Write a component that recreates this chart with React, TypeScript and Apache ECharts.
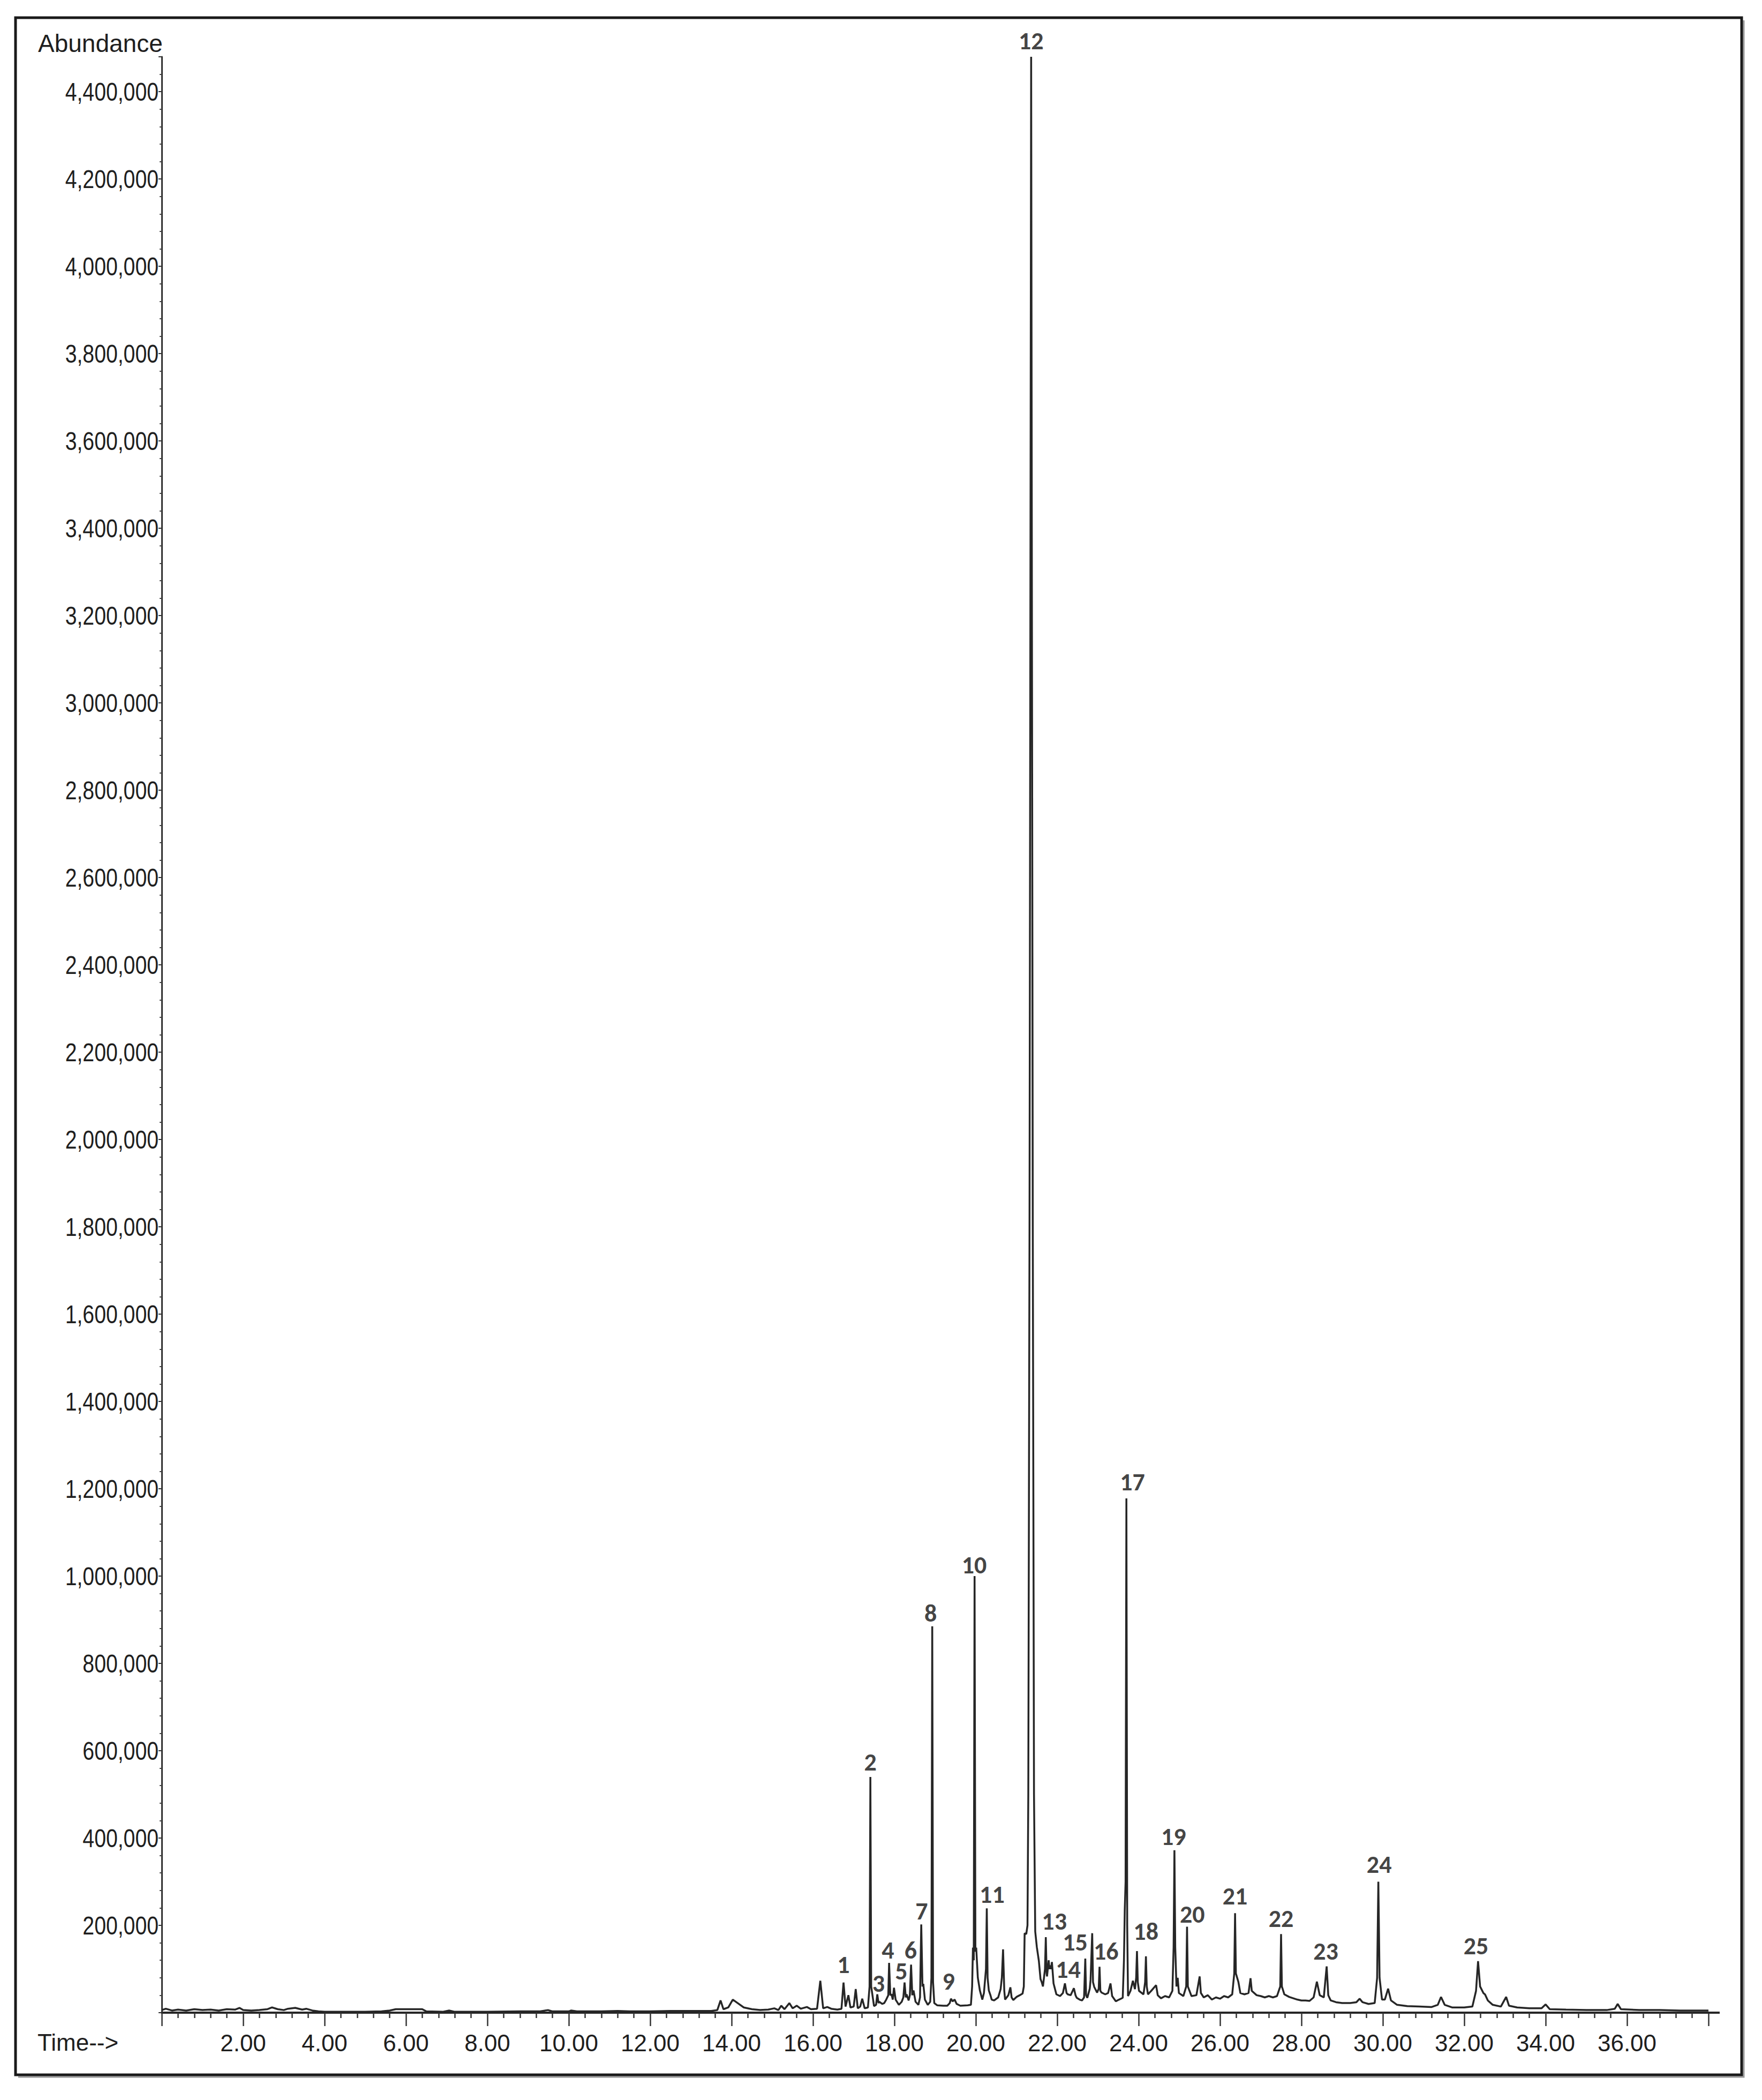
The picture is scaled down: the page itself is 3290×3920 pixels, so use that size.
import React, { useEffect, useRef } from "react";
import * as echarts from "echarts";

// Retention time (min) and abundance (in thousands of counts).
const segmentEarly: [number, number][] = [
  [0.0, 6], [0.1, 9], [0.25, 5], [0.4, 7], [0.6, 5], [0.8, 8], [1.0, 6], [1.2, 7], [1.4, 5],
  [1.6, 8], [1.8, 7], [1.91, 11], [2.0, 6], [2.2, 5], [2.4, 6], [2.6, 8], [2.71, 12], [2.85, 8],
  [3.0, 6], [3.1, 9], [3.28, 11], [3.45, 7], [3.55, 9], [3.7, 5], [3.85, 3], [4.0, 2], [4.5, 2],
  [5.0, 2], [5.4, 3], [5.6, 5], [5.75, 8], [6.0, 8], [6.4, 8], [6.5, 3], [6.9, 2], [7.06, 5],
  [7.2, 2], [8.0, 2], [8.8, 3], [9.3, 3], [9.49, 6], [9.6, 3], [10.0, 3], [10.06, 5], [10.2, 3],
  [10.8, 3], [11.2, 4], [11.5, 3], [12.0, 3], [12.5, 4], [13.0, 4],
];

const segment13to17: [number, number][] = [
  [13.5, 4], [13.65, 6], [13.73, 28], [13.8, 8], [13.92, 12], [14.03, 30], [14.15, 22], [14.3, 12],
  [14.5, 8], [14.7, 6], [14.9, 7], [15.05, 10], [15.15, 6], [15.22, 16], [15.3, 8], [15.42, 22],
  [15.5, 10], [15.6, 16], [15.7, 9], [15.85, 13], [15.95, 8], [16.1, 9], [16.18, 73], [16.25, 10],
  [16.35, 13], [16.45, 9], [16.6, 7], [16.7, 9], [16.75, 69], [16.8, 14], [16.87, 40], [16.92, 12],
  [17.0, 14], [17.05, 54], [17.1, 10], [17.16, 14], [17.21, 32], [17.27, 10], [17.35, 12],
  [17.39, 60], [17.41, 540], [17.43, 60],
];

const segment17to21: [number, number][] = [
  [17.5, 15], [17.55, 18], [17.58, 42], [17.61, 22], [17.63, 25], [17.7, 20], [17.75, 22], [17.8, 30],
  [17.85, 40], [17.87, 114], [17.9, 40], [17.93, 42], [17.96, 30], [17.99, 57], [18.03, 30],
  [18.11, 18], [18.18, 25], [18.22, 35], [18.25, 69], [18.28, 35], [18.3, 42], [18.35, 28],
  [18.38, 40], [18.41, 110], [18.44, 40], [18.47, 51], [18.52, 25], [18.59, 18], [18.63, 35],
  [18.66, 202], [18.69, 60], [18.71, 66], [18.75, 30], [18.82, 18], [18.88, 25], [18.91, 80],
  [18.93, 885], [18.95, 70], [18.98, 22], [19.05, 17], [19.2, 16], [19.3, 16], [19.36, 22],
  [19.39, 32], [19.43, 26], [19.48, 30], [19.53, 20], [19.62, 16], [19.8, 17], [19.88, 18],
  [19.91, 60], [19.93, 149], [19.95, 120], [19.97, 1000], [19.99, 140], [20.01, 149], [20.05, 80],
  [20.1, 51], [20.16, 30], [20.2, 45], [20.25, 100], [20.27, 239], [20.29, 80], [20.32, 51],
  [20.36, 40], [20.39, 30], [20.45, 28], [20.55, 35], [20.61, 54], [20.64, 80], [20.67, 145],
  [20.7, 50], [20.72, 30], [20.8, 40], [20.85, 58], [20.88, 35], [20.92, 29], [21.0, 36],
  [21.08, 40], [21.15, 44], [21.18, 60], [21.2, 182], [21.24, 180], [21.27, 200],
];

const segmentMainPeak: [number, number][] = [
  [21.29, 500], [21.32, 1800], [21.36, 4480], [21.4, 1800], [21.43, 500], [21.46, 186],
  [21.5, 150], [21.55, 118], [21.59, 77], [21.62, 70],
];

const segment21to25: [number, number][] = [
  [21.65, 60], [21.7, 100], [21.72, 173], [21.74, 90], [21.75, 83], [21.79, 120], [21.81, 100],
  [21.83, 108], [21.85, 100], [21.87, 116], [21.91, 67], [21.98, 42], [22.07, 38], [22.14, 45],
  [22.19, 67], [22.23, 45], [22.26, 42], [22.33, 40], [22.41, 56], [22.45, 40], [22.48, 34],
  [22.55, 30], [22.61, 28], [22.66, 35], [22.69, 124], [22.71, 40], [22.74, 34], [22.8, 55],
  [22.82, 75], [22.86, 182], [22.88, 70], [22.91, 59], [22.98, 46], [23.02, 55], [23.04, 105],
  [23.06, 50], [23.09, 46], [23.18, 42], [23.25, 45], [23.31, 67], [23.35, 38], [23.44, 26],
  [23.52, 30], [23.61, 34], [23.64, 120], [23.66, 235], [23.68, 300], [23.7, 1178], [23.72, 200],
  [23.74, 38], [23.8, 50], [23.86, 73], [23.91, 54], [23.94, 80], [23.96, 141], [23.98, 70],
  [24.01, 50], [24.12, 42], [24.16, 70], [24.18, 129], [24.2, 60], [24.23, 42], [24.31, 50],
  [24.43, 63], [24.47, 40], [24.55, 33], [24.65, 38], [24.75, 35], [24.83, 50], [24.86, 150],
  [24.88, 372], [24.9, 150], [24.93, 60], [24.96, 80], [24.99, 45],
];

const segmentLate: [number, number][] = [
  [25.1, 38], [25.17, 60], [25.19, 197], [25.21, 60], [25.3, 38], [25.42, 40], [25.5, 83],
  [25.53, 45], [25.6, 35], [25.7, 40], [25.8, 30], [25.9, 35], [26.0, 32], [26.1, 38], [26.2, 35],
  [26.3, 42], [26.35, 90], [26.37, 228], [26.39, 90], [26.45, 71], [26.5, 45], [26.6, 42],
  [26.7, 45], [26.75, 79], [26.78, 50], [26.9, 40], [27.0, 38], [27.1, 35], [27.2, 38], [27.3, 35],
  [27.4, 38], [27.48, 60], [27.5, 180], [27.52, 60], [27.58, 42], [27.7, 36], [27.8, 33],
  [27.9, 30], [28.0, 28], [28.1, 28], [28.2, 27], [28.3, 35], [28.38, 71], [28.45, 40],
  [28.55, 35], [28.62, 106], [28.66, 40], [28.72, 28], [28.85, 24], [29.0, 22], [29.2, 22],
  [29.35, 24], [29.43, 32], [29.5, 24], [29.65, 20], [29.8, 22], [29.86, 80], [29.89, 300],
  [29.92, 80], [29.98, 30], [30.05, 30], [30.13, 55], [30.2, 28], [30.35, 18], [30.6, 15],
  [30.9, 14], [31.2, 13], [31.35, 18], [31.43, 36], [31.52, 18], [31.7, 12], [32.0, 12],
  [32.2, 14], [32.29, 50], [32.34, 118], [32.39, 60], [32.47, 45], [32.51, 42], [32.58, 28],
  [32.7, 18], [32.9, 14], [33.03, 36], [33.1, 16], [33.3, 12], [33.6, 10], [33.9, 10], [34.0, 19],
  [34.1, 8], [34.5, 7], [35.0, 6], [35.5, 6], [35.7, 9], [35.77, 20], [35.85, 8], [36.3, 6],
  [36.8, 6], [37.3, 5], [38.0, 5],
];

// Peak numbers and the (time, abundance in thousands) where each number is printed.
const peakNames = ["1", "2", "3", "4", "5", "6", "7", "8", "9", "10", "11", "12", "13",
  "14", "15", "16", "17", "18", "19", "20", "21", "22", "23", "24", "25"];
const peakLabelTimes = [16.75, 17.41, 17.61, 17.84, 18.17, 18.4, 18.67, 18.89, 19.33, 19.96,
  20.4, 21.36, 21.93, 22.27, 22.44, 23.2, 23.85, 24.18, 24.86, 25.32, 26.37, 27.5, 28.6, 29.91, 32.29];
const peakLabelAbundance = [110, 574, 68, 143, 96, 143, 233, 915, 73, 1026, 271, 4517, 210, 100,
  162, 141, 1216, 187, 404, 226, 267, 216, 141, 340, 153];

// Y tick labels (abundance) printed on the left axis.
const yTickValues = [200000, 400000, 600000, 800000, 1000000, 1200000, 1400000, 1600000, 1800000,
  2000000, 2200000, 2400000, 2600000, 2800000, 3000000, 3200000, 3400000, 3600000, 3800000,
  4000000, 4200000, 4400000];

const yTickStep = 200000;
const yMax = 4480000;
const xTickStep = 2;
const xMax = 38;

export default function App() {
  const ref = useRef<HTMLDivElement>(null);

  useEffect(() => {
    if (!ref.current) return;
    const chart = echarts.init(ref.current, undefined, { renderer: "svg" });
    const trace = [
      ...segmentEarly, ...segment13to17, ...segment17to21,
      ...segmentMainPeak, ...segment21to25, ...segmentLate,
    ].map(([t, v]) => [t, v * 1000]);
    const labels = peakNames.map((n, i) => ({
      name: n,
      value: [peakLabelTimes[i], peakLabelAbundance[i] * 1000],
    }));
    const axisFont = "'Liberation Sans', Arial, sans-serif";

    const frameGraphics: any[] = [
      {
        type: "rect",
        shape: { x: 29, y: 33, width: 3223, height: 3840 },
        style: { fill: "none", stroke: "#1a1a1a", lineWidth: 5 },
        z: 10,
      },
      {
        type: "polyline",
        shape: { points: [[3256, 38], [3256, 3877], [34, 3877]] },
        style: { fill: "none", stroke: "#9a9a9a", lineWidth: 3 },
        z: 9,
      },
      {
        type: "line",
        shape: { x1: 3188, y1: 3757, x2: 3211, y2: 3757 },
        style: { stroke: "#262626", lineWidth: 4 },
        z: 9,
      },
      {
        type: "text",
        left: 71,
        top: 58,
        style: { text: "Abundance", fontSize: 46, fill: "#1e1e1e", fontFamily: axisFont },
        z: 10,
      },
      {
        type: "text",
        left: 70,
        top: 3790,
        style: { text: "Time-->", fontSize: 44, fill: "#1e1e1e", fontFamily: axisFont },
        z: 10,
      },
    ];

    chart.setOption({
      animation: false,
      backgroundColor: "#ffffff",
      grid: { left: 302, right: 100, top: 106, bottom: 163, containLabel: false },
      xAxis: {
        type: "value",
        min: 0,
        max: xMax,
        interval: xTickStep,
        axisLine: { show: true, lineStyle: { color: "#262626", width: 4 } },
        axisTick: { show: true, inside: false, length: 25, lineStyle: { color: "#333", width: 2.5 } },
        minorTick: { show: true, splitNumber: 5, length: 10, lineStyle: { color: "#333", width: 2.5 } },
        splitLine: { show: false },
        axisLabel: {
          margin: 34,
          fontSize: 44,
          color: "#1e1e1e",
          fontFamily: axisFont,
          formatter: (v: number) => (v > 0 && v < 37 ? v.toFixed(2) : ""),
        },
      },
      yAxis: {
        type: "value",
        min: 0,
        max: yMax,
        interval: yTickStep,
        axisLine: { show: true, lineStyle: { color: "#333", width: 3 } },
        axisTick: { show: true, inside: false, length: 6, lineStyle: { color: "#333", width: 2 } },
        minorTick: { show: true, splitNumber: 5, length: 4, lineStyle: { color: "#444", width: 2 } },
        splitLine: { show: false },
        axisLabel: { show: false },
      },
      series: [
        {
          type: "line",
          data: trace,
          showSymbol: false,
          symbol: "none",
          smooth: false,
          clip: false,
          lineStyle: { color: "#262626", width: 3.5 },
          z: 3,
        },
        {
          type: "scatter",
          data: labels,
          symbol: "circle",
          symbolSize: 1,
          clip: false,
          itemStyle: { color: "rgba(0,0,0,0)" },
          label: {
            show: true,
            position: "inside",
            formatter: (p: any) => p.name,
            fontSize: 46,
            lineHeight: 34,
            fontWeight: "bold",
            color: "#111",
            fontFamily: "Carlito, Lato, 'Open Sans', sans-serif",
          },
          z: 5,
        },
      ],
      graphic: frameGraphics,
    });

    // Condensed y tick labels, placed through the axis scale.
    const yLabelGraphics = yTickValues.map((v) => {
      const py = chart.convertToPixel({ yAxisIndex: 0 }, v) as number;
      return {
        type: "text",
        x: 296,
        y: py,
        scaleX: 0.8,
        style: {
          text: v.toLocaleString("en-US"),
          fontSize: 49,
          fill: "#1e1e1e",
          fontFamily: axisFont,
          align: "right",
          verticalAlign: "middle",
        },
        z: 10,
      };
    });
    chart.setOption({ graphic: [...frameGraphics, ...yLabelGraphics] });

    return () => chart.dispose();
  }, []);

  return (
    <div
      ref={ref}
      style={{ position: "absolute", left: 0, top: 0, width: 3290, height: 3920, background: "#fff" }}
    />
  );
}
